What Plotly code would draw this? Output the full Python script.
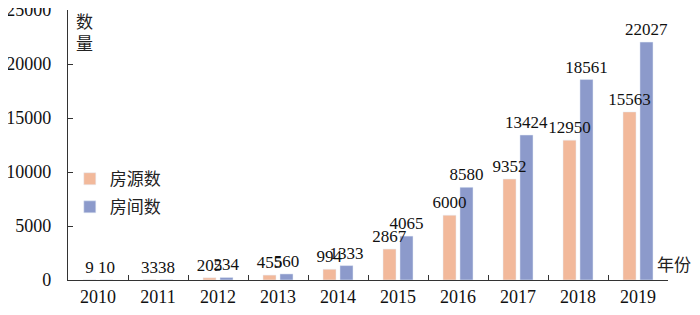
import plotly.graph_objects as go

years = ["2010", "2011", "2012", "2013", "2014", "2015", "2016", "2017", "2018", "2019"]
listings = [9, 33, 205, 455, 994, 2867, 6000, 9352, 12950, 15563]
rooms = [10, 38, 234, 560, 1333, 4065, 8580, 13424, 18561, 22027]
y_ticks = [0, 5000, 10000, 15000, 20000, 25000]

serif = "Liberation Serif"
cjk = "Noto Sans CJK SC"

fig = go.Figure()
# blue drawn first so the orange labels stay on top; positions set by offset
fig.add_trace(go.Bar(
    x=years, y=rooms, name="房间数", marker_color="#8C9ACB",
    width=0.217, offset=0.033, legendgroup="b", legendrank=2,
    text=[str(v) for v in rooms], textposition="outside", constraintext="none",
    cliponaxis=False, textfont=dict(family=serif, size=17, color="#111"),
))
fig.add_trace(go.Bar(
    x=years, y=listings, name="房源数", marker_color="#F2B99B",
    width=0.217, offset=-0.25, legendgroup="a", legendrank=1,
    text=[str(v) for v in listings], textposition="outside", constraintext="none",
    cliponaxis=False, textfont=dict(family=serif, size=17, color="#111"),
))

fig.update_layout(
    width=700, height=315,
    margin=dict(l=60, r=40, t=2, b=43, autoexpand=False),
    plot_bgcolor="white", paper_bgcolor="white",
    barmode="overlay",
    showlegend=True,
    legend=dict(x=0.003, y=0.44, xanchor="left", yanchor="top",
                traceorder="grouped", tracegroupgap=3,
                font=dict(family=cjk, size=17, color="#222"),
                itemwidth=30, bgcolor="rgba(0,0,0,0)"),
    font=dict(family=serif, size=18, color="#111"),
    xaxis=dict(showline=True, linecolor="#333", linewidth=1.2,
               ticks="inside", ticklen=5, tickcolor="#333",
               tickson="boundaries", showgrid=False, automargin=False,
               ticklabeloverflow="allow",
               tickfont=dict(family=serif, size=18, color="#111")),
    yaxis=dict(range=[0, 25000], tickvals=y_ticks,
               ticktext=[str(v) for v in y_ticks],
               showline=True, linecolor="#333", automargin=False,
               linewidth=1.2, ticks="inside", ticklen=5, tickcolor="#333",
               showgrid=False, zeroline=False, ticklabelstandoff=12,
               ticklabeloverflow="allow",
               tickfont=dict(family=serif, size=18, color="#111")),
    annotations=[
        dict(text="数<br>量", x=0.0, y=1.0, xref="paper", yref="paper",
             xanchor="left", yanchor="top", showarrow=False, xshift=6, yshift=4,
             font=dict(family=cjk, size=17, color="#222")),
        dict(text="年份", x=1.0, y=0.0, xref="paper", yref="paper",
             xanchor="right", yanchor="bottom", showarrow=False, xshift=25, yshift=2,
             font=dict(family=cjk, size=17, color="#222")),
    ],
)

fig.write_html("out.html")
